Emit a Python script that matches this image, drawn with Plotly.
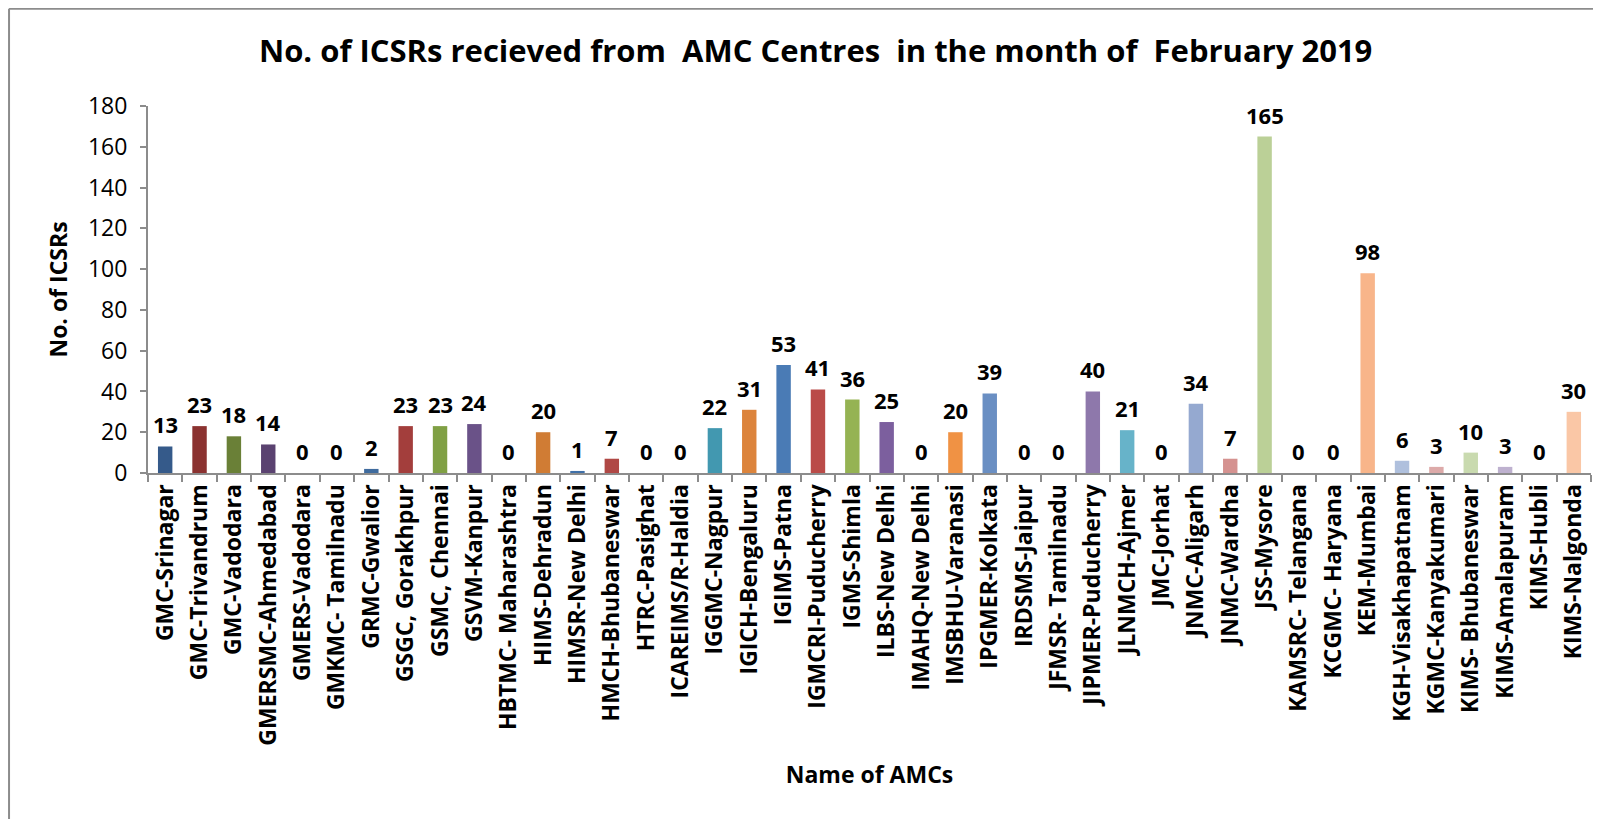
import plotly.graph_objects as go

centres = [
    "GMC-Srinagar", "GMC-Trivandrum", "GMC-Vadodara", "GMERSMC-Ahmedabad",
    "GMERS-Vadodara", "GMKMC- Tamilnadu", "GRMC-Gwalior", "GSGC, Gorakhpur",
    "GSMC, Chennai", "GSVM-Kanpur", "HBTMC- Maharashtra", "HIMS-Dehradun",
    "HIMSR-New Delhi", "HMCH-Bhubaneswar", "HTRC-Pasighat", "ICAREIMS/R-Haldia",
    "IGGMC-Nagpur", "IGICH-Bengaluru", "IGIMS-Patna", "IGMCRI-Puducherry",
    "IGMS-Shimla", "ILBS-New Delhi", "IMAHQ-New Delhi", "IMSBHU-Varanasi",
    "IPGMER-Kolkata", "IRDSMS-Jaipur", "JFMSR- Tamilnadu", "JIPMER-Puducherry",
    "JLNMCH-Ajmer", "JMC-Jorhat", "JNMC-Aligarh", "JNMC-Wardha",
    "JSS-Mysore", "KAMSRC- Telangana", "KCGMC- Haryana", "KEM-Mumbai",
    "KGH-Visakhapatnam", "KGMC-Kanyakumari", "KIMS- Bhubaneswar", "KIMS-Amalapuram",
    "KIMS-Hubli", "KIMS-Nalgonda",
]
icsrs = [
    13, 23, 18, 14, 0, 0, 2, 23, 23, 24, 0, 20, 1, 7, 0, 0, 22, 31, 53, 41, 36,
    25, 0, 20, 39, 0, 0, 40, 21, 0, 34, 7, 165, 0, 0, 98, 6, 3, 10, 3, 0, 30,
]

# Excel "vary colours by point" palette, darkest shades first
bar_colors = [
    "#355a8a", "#8b3230", "#6a8037", "#5a4270", "#2f8197", "#c0682a",
    "#3f6b9e", "#a33e3c", "#80a044", "#6a5288", "#3a93ab", "#d07c34",
    "#4070a8", "#b04845", "#8caa4b", "#735a96", "#4298b0", "#dc843c",
    "#4a7bb5", "#ba4b48", "#95b353", "#7c5f9e", "#4ba6c0", "#f09244",
    "#6a8fc3", "#c96b69", "#a5c26f", "#8e78ab", "#67b3c9", "#f3a064",
    "#95a9d0", "#d59290", "#bbd097", "#a796bf", "#8cc4d6", "#f8b58a",
    "#afc0dd", "#ddaaa9", "#c9daaf", "#beb1cf", "#a9d2e0", "#fac7a6",
]

fig = go.Figure(
    go.Bar(
        x=centres,
        y=icsrs,
        marker=dict(color=bar_colors, line=dict(width=0)),
        width=0.42,
    )
)

# value labels sit a little higher above the bars than plotly's outside text
for name, val in zip(centres, icsrs):
    fig.add_annotation(
        x=name, y=val, text=f"<b>{val}</b>", showarrow=False,
        yanchor="bottom", yshift=5,
        font=dict(family="Open Sans", size=22, color="#000000"),
    )

# the page body adds an 8px margin, so the figure is 8px smaller than the window
fig.update_layout(
    width=1593,
    height=811,
    plot_bgcolor="white",
    paper_bgcolor="white",
    margin=dict(l=140, r=10, t=98, b=346),
    showlegend=False,
    title=dict(
        text="<b>No. of ICSRs recieved from \u00a0AMC Centres \u00a0in the month of \u00a0February 2019</b>",
        x=0.507, xanchor="center", y=0.947, yanchor="middle",
        font=dict(family="Open Sans", size=31, color="#000000"),
    ),
    font=dict(family="Open Sans", color="#000000"),
)

fig.update_xaxes(
    title=dict(text="<b>Name of AMCs</b>", font=dict(size=23), standoff=22),
    automargin=False,
    tickangle=-90,
    tickfont=dict(size=23),
    tickprefix="<b>", ticksuffix="</b>",
    showline=True, linecolor="#8c8c8c", linewidth=2,
    ticks="outside", tickson="boundaries", ticklen=7, tickcolor="#8c8c8c", tickwidth=2,
    showgrid=False,
)
fig.update_yaxes(
    title=dict(text="<b>No. of ICSRs</b>", font=dict(size=23), standoff=14),
    automargin=False,
    range=[0, 180], dtick=20,
    tickfont=dict(size=23),
    ticklabelstandoff=8,
    showline=True, linecolor="#8c8c8c", linewidth=2,
    ticks="outside", ticklen=6, tickcolor="#8c8c8c", tickwidth=2,
    showgrid=False, zeroline=False,
)

# chart frame (left and top edges)
fig.add_shape(type="line", xref="paper", yref="paper", x0=-0.0963, x1=-0.0963, y0=-1.0, y1=1.265,
              line=dict(color="#8c8c8c", width=2))
fig.add_shape(type="line", xref="paper", yref="paper", x0=-0.0963, x1=1.02, y0=1.265, y1=1.265,
              line=dict(color="#8c8c8c", width=2))

fig.write_html("out.html")
